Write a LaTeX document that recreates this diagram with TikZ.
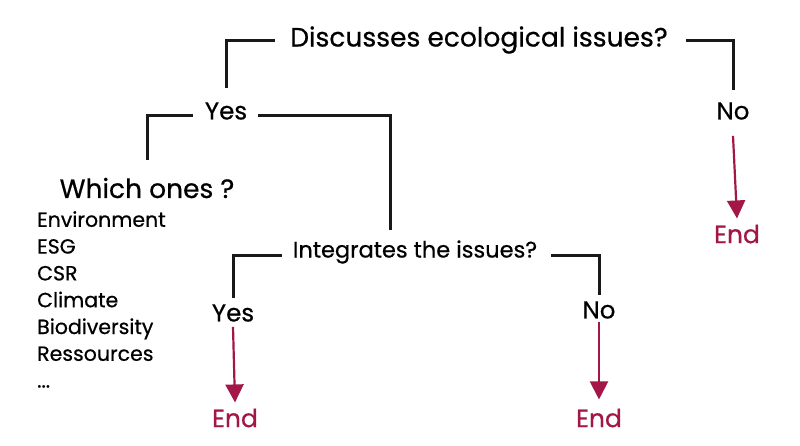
\documentclass[tikz,border=0pt]{standalone}
\usepackage{fontspec}
\setmainfont{Poppins}[FakeBold=0.6]
\usetikzlibrary{arrows.meta}

\definecolor{endred}{RGB}{163,22,72}

\tikzset{
  ques/.style={inner sep=0pt,font=\fontsize{26.5}{30}\selectfont},
  small ques/.style={inner sep=0pt,font=\fontsize{22.5}{26}\selectfont},
  ans/.style={inner sep=0pt,font=\fontsize{24.5}{28}\selectfont},
  fin/.style={inner sep=0pt,text=endred,font=\fontsize{25}{28}\selectfont},
  topics/.style={inner sep=0pt,align=left,font=\fontsize{20.5}{26.8}\selectfont},
  link/.style={line width=3pt,black!90},
  go/.style={-{Triangle[width=18pt,length=18pt]},line width=2.2pt,endred}
}

\begin{document}
\begin{tikzpicture}[x=1pt,y=-1pt]
 \useasboundingbox (0,0) rectangle (800,445);

 \node[ques]       (disc)  at (479,40)  {Discusses ecological issues?};
 \node[ans]        (yesA)  at (226,111) {Yes};
 \node[ans]        (noA)   at (733,111) {No};
 \node[fin]        (endA)  at (737,234) {End};
 \node[ques]       (which) at (147,188) {Which ones ?};
 \node[topics,anchor=north west] (list) at (37,211)
   {Environment\\ESG\\CSR\\Climate\\Biodiversity\\Ressources\\...};
 \node[small ques] (integ) at (415,252) {Integrates the issues?};
 \node[ans]        (yesB)  at (233,313) {Yes};
 \node[ans]        (noB)   at (599,310) {No};
 \node[fin]        (endB)  at (235,418) {End};
 \node[fin]        (endC)  at (599,418) {End};

 % first question
 \draw[link] ([xshift=-15pt]disc.west) -| ([yshift=14pt]yesA.north);
 \draw[link] ([xshift=18pt]disc.east)  -| ([yshift=12pt]noA.north);
 \draw[go]   ([yshift=-16pt]noA.south) -- ([yshift=6pt]endA.north);

 % yes branch
 \draw[link] ([xshift=-12pt,yshift=-4pt]yesA.west) -| ([yshift=18pt]which.north);
 \draw[link] ([xshift=11pt,yshift=-4pt]yesA.east)  -| ([xshift=-25pt,yshift=10pt]integ.north);

 % second question
 \draw[link] ([xshift=-11pt,yshift=-3pt]integ.west) -| ([yshift=6pt]yesB.north);
 \draw[link] ([xshift=14pt,yshift=-3pt]integ.east)  -| ([yshift=6pt]noB.north);
 \draw[go]   ([yshift=-5pt]yesB.south) -- ([yshift=6pt]endB.north);
 \draw[go]   ([yshift=-3pt]noB.south)  -- ([yshift=9pt]endC.north);
\end{tikzpicture}
\end{document}
